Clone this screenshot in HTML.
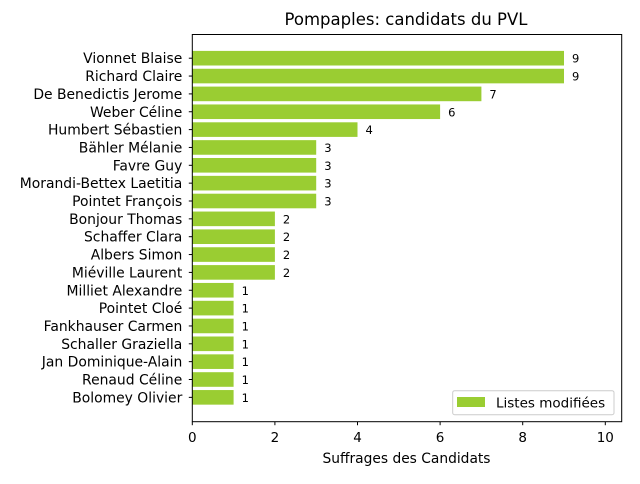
<!DOCTYPE html>
<html><head><meta charset="utf-8"><style>
body{margin:0;background:#fff;font-family:"DejaVu Sans","Liberation Sans",sans-serif}
svg text{font-family:"DejaVu Sans","Liberation Sans",sans-serif}
</style></head><body>
<svg id="chart" width="640" height="480" viewBox="0 0 640 480" xmlns="http://www.w3.org/2000/svg">
<text x="406" y="25" font-size="16.5" text-anchor="middle" fill="#000">Pompaples: candidats du PVL</text>
<g id="bars"></g>
<g id="yaxis"></g>
<g id="xaxis"></g>
<rect x="192.3" y="34.5" width="429.4" height="387.2" fill="none" stroke="#000" stroke-width="1"/>
<text x="406.5" y="463" font-size="13.8" text-anchor="middle">Suffrages des Candidats</text>
<g>
<rect x="452.7" y="390.7" width="161.3" height="24" rx="2" fill="#fff" fill-opacity="0.8" stroke="#ccc"/>
<rect x="457" y="397" width="28" height="10" fill="#9acd32"/>
<text x="496" y="407.5" font-size="13.5">Listes modifiées</text>
</g>
</svg>
<script>
const categories=["Vionnet Blaise","Richard Claire","De Benedictis Jerome","Weber Céline","Humbert Sébastien","Bähler Mélanie","Favre Guy","Morandi-Bettex Laetitia","Pointet François","Bonjour Thomas","Schaffer Clara","Albers Simon","Miéville Laurent","Milliet Alexandre","Pointet Cloé","Fankhauser Carmen","Schaller Graziella","Jan Dominique-Alain","Renaud Céline","Bolomey Olivier"];
const values=[9,9,7,6,4,3,3,3,3,2,2,2,2,1,1,1,1,1,1,1];
const xTicks=[0,2,4,6,8,10];
const NS="http://www.w3.org/2000/svg";
const x0=192.3, ux=41.3, y0=58.2, uy=17.85, bh=14.6;
const xs=v=>x0+v*ux, ys=i=>y0+i*uy;
function mk(t,a,p){const e=document.createElementNS(NS,t);for(const k in a)e.setAttribute(k,a[k]);p.appendChild(e);return e;}
const gb=document.getElementById('bars'),gy=document.getElementById('yaxis'),gx=document.getElementById('xaxis');
categories.forEach((c,i)=>{
 const r=mk('rect',{x:xs(0),y:ys(i)-bh/2,width:xs(values[i])-xs(0),height:bh,fill:'#9acd32'},gb);
 
 
 const v=mk('text',{x:xs(values[i])+8,y:ys(i)+4.5,'font-size':'11.5'},gb);v.textContent=values[i];
 
 
 const tk=mk('line',{x1:x0-3.5,x2:x0,y1:ys(i),y2:ys(i),stroke:'#000'},gy);
 
 
 const t=mk('text',{x:x0-10,y:ys(i)+5,'font-size':'13.9','text-anchor':'end'},gy);t.textContent=c;
 
 
});
xTicks.forEach(v=>{
 const tk=mk('line',{x1:xs(v),x2:xs(v),y1:421.7,y2:425.2,stroke:'#000'},gx);
 
 
 const t=mk('text',{x:xs(v),y:442,'font-size':'13.5','text-anchor':'middle'},gx);t.textContent=v;
 
 
});
</script>
</body></html>
